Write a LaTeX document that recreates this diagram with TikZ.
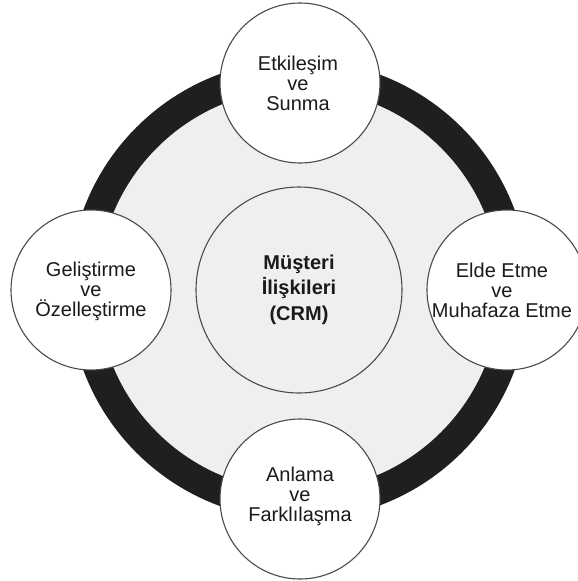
\documentclass[tikz,border=0pt]{standalone}
\usepackage{fontspec}
\setmainfont{Liberation Sans}
\definecolor{ringdark}{HTML}{1F1F1F}
\definecolor{innerfill}{HTML}{EFEFEF}
\definecolor{edgegray}{HTML}{4A4A4A}
\definecolor{inkgray}{HTML}{1A1A1A}
\begin{document}
\begin{tikzpicture}[x=1pt,y=-1pt,
  satellite/.style={circle,draw=edgegray,line width=1.1pt,fill=white,
    minimum size=160pt,inner sep=0pt},
  hub/.style={circle,draw=edgegray,line width=1.1pt,fill=innerfill,
    minimum size=206pt,inner sep=0pt},
  sattext/.style={align=center,text=inkgray,inner sep=0pt,
    font=\fontsize{20}{20}\selectfont},
  hubtext/.style={align=center,text=inkgray,inner sep=0pt,
    font=\fontsize{20}{25.5}\selectfont\bfseries}]
  \useasboundingbox (0,0) rectangle (578,581);
  \coordinate (c) at (299,290);
  % shaded disc and the dark ring around it
  \fill[innerfill] (c) circle (205);
  \draw[ringdark,line width=29pt] (c) circle (215.5);
  % central circle
  \node[hub] (crm) at (c) {};
  \node[hubtext] (crmtext) at (299,289.5) {Müşteri\\İlişkileri\\(CRM)};
  % four stages on the ring
  \node[satellite] (interact) at (300,83) {};
  \node[satellite] (retain) at (507,290) {};
  \node[satellite] (understand) at (300,499) {};
  \node[satellite] (develop) at (91,290) {};
  \node[sattext] (interacttext) at (298,83) {Etkileşim\\ve\\Sunma};
  \node[sattext] (retaintext) at (502,290) {Elde Etme\\ve\\Muhafaza Etme};
  \node[sattext] (understandtext) at (300,496.5) {Anlama\\ve\\Farklılaşma};
  \node[sattext] (developtext) at (91,291) {Geliştirme\\ve\\Özelleştirme};
\end{tikzpicture}
\end{document}
